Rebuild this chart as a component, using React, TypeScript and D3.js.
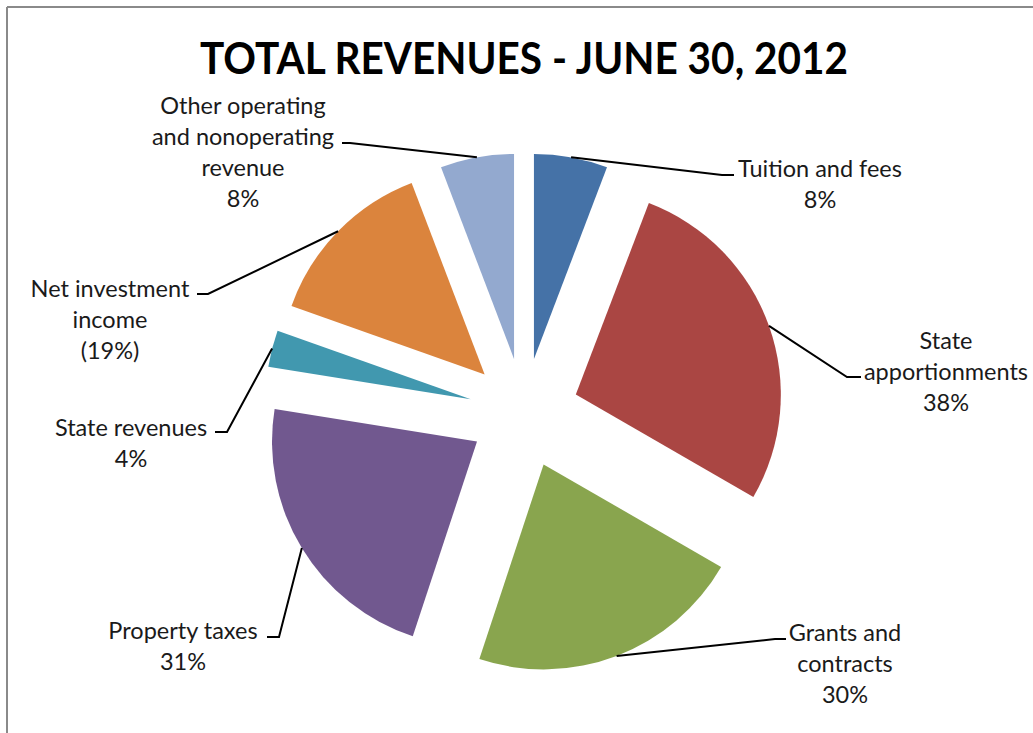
import React from "react";
import * as d3 from "d3";

const categories = [
  "Tuition and fees",
  "State apportionments",
  "Grants and contracts",
  "Property taxes",
  "State revenues",
  "Net investment income",
  "Other operating and nonoperating revenue",
];
const values = [8, 38, 30, 31, 4, -19, 8];
const labelLines = [
  ["Tuition and fees"],
  ["State", "apportionments"],
  ["Grants and", "contracts"],
  ["Property taxes"],
  ["State revenues"],
  ["Net investment", "income"],
  ["Other operating", "and nonoperating", "revenue"],
];
const colors = ["#4572A7", "#AA4643", "#89A54E", "#71588F", "#4198AF", "#DB843D", "#93A9CF"];

// label layout: text center x, first line center y, elbow point, horizontal end x
const labelLayout = [
  { cx: 820, y0: 168, ex: 722, ey: 175, hx: 734 },
  { cx: 946, y0: 340, ex: 847, ey: 377, hx: 861 },
  { cx: 845, y0: 632, ex: 775, ey: 639, hx: 786 },
  { cx: 183, y0: 630, ex: 279, ey: 637, hx: 267 },
  { cx: 131, y0: 427, ex: 227, ey: 432, hx: 215 },
  { cx: 110, y0: 288, ex: 208, ey: 294, hx: 197 },
  { cx: 243, y0: 105, ex: 350, ey: 143, hx: 342 },
];

const W = 1033;
const H = 733;
const CX = 524;
const CY = 413;
const R = 205;
const EXPLODE = 55;
const LINE_H = 31;

export default function App() {
  const pie = d3
    .pie<number>()
    .sort(null)
    .value((d) => Math.abs(d))
    .startAngle(0)
    .endAngle(2 * Math.PI);
  const arcs = pie(values);
  const arc = d3.arc<d3.PieArcDatum<number>>().innerRadius(0).outerRadius(R);
  const font = "Lato, 'Open Sans', sans-serif";

  return (
    <div style={{ position: "fixed", left: 0, top: 0, width: W, height: H, background: "#fff" }}>
      <svg width={W} height={H} style={{ display: "block" }}>
        <rect x={0} y={0} width={W} height={H} fill="#fff" />
        <line x1={7} y1={7} x2={W} y2={7} stroke="#8a8a8a" strokeWidth={2} />
        <line x1={7} y1={7} x2={7} y2={H} stroke="#8a8a8a" strokeWidth={2} />
        <text
          x={524}
          y={74}
          textAnchor="middle"
          fontFamily={font}
          fontWeight="bold"
          fontSize={44}
          fill="#000"
          textLength={648}
          lengthAdjust="spacingAndGlyphs"
        >
          TOTAL REVENUES - JUNE 30, 2012
        </text>
        {arcs.map((a, i) => {
          const mid = (a.startAngle + a.endAngle) / 2;
          const dx = Math.sin(mid) * EXPLODE;
          const dy = -Math.cos(mid) * EXPLODE;
          return (
            <path
              key={categories[i]}
              d={arc(a) || ""}
              transform={`translate(${CX + dx},${CY + dy})`}
              fill={colors[i]}
            />
          );
        })}
        {arcs.map((a, i) => {
          const mid = (a.startAngle + a.endAngle) / 2;
          const sx = CX + Math.sin(mid) * (EXPLODE + R);
          const sy = CY - Math.cos(mid) * (EXPLODE + R);
          const L = labelLayout[i];
          const pct =
            values[i] < 0 ? `(${Math.abs(values[i])}%)` : `${values[i]}%`;
          const lines = [...labelLines[i], pct];
          return (
            <g key={"l" + i}>
              <polyline
                points={`${sx},${sy} ${L.ex},${L.ey} ${L.hx},${L.ey}`}
                fill="none"
                stroke="#000"
                strokeWidth={2}
              />
              <text
                textAnchor="middle"
                fontFamily={font}
                fontSize={23.5}
                fill="#1a1a1a"
              >
                {lines.map((t, j) => (
                  <tspan key={j} x={L.cx} y={L.y0 + j * LINE_H} dominantBaseline="central">
                    {t}
                  </tspan>
                ))}
              </text>
            </g>
          );
        })}
      </svg>
    </div>
  );
}
